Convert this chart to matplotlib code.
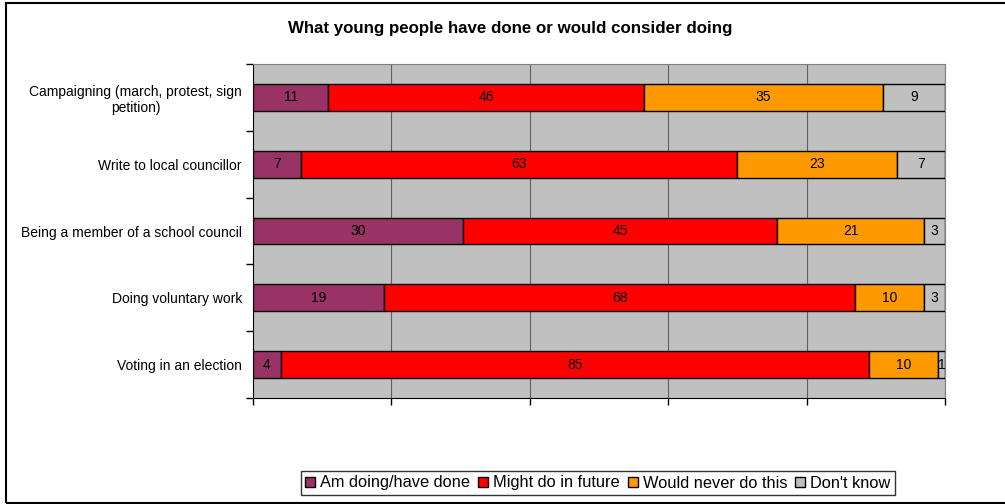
import matplotlib.pyplot as plt
import numpy as np
from matplotlib.patches import Rectangle

plt.rcParams['font.family'] = ['Liberation Sans', 'DejaVu Sans']

# Data (top to bottom)
activities = [
    'Campaigning (march, protest, sign\npetition)',
    'Write to local councillor',
    'Being a member of a school council',
    'Doing voluntary work',
    'Voting in an election',
]
series_names = ['Am doing/have done', 'Might do in future', 'Would never do this', "Don't know"]
am_doing = [11, 7, 30, 19, 4]
might_do = [46, 63, 45, 68, 85]
never_do = [35, 23, 21, 10, 10]
dont_know = [9, 7, 3, 3, 1]
colors = ['#993366', '#FF0000', '#FF9900', '#C0C0C0']

values = np.array([am_doing, might_do, never_do, dont_know], dtype=float)
totals = values.sum(axis=0)
pct = values / totals * 100

fig = plt.figure(figsize=(10.05, 5.04), dpi=100)
ax = fig.add_axes([253 / 1005, 1 - 398 / 504, (945 - 253) / 1005, (398 - 64) / 504])

# outer chart frame
fig.patches.append(Rectangle((6 / 1005, 1 / 504), 1.2, 1 - 4 / 504, transform=fig.transFigure,
                             fill=False, edgecolor='black', linewidth=1.5, zorder=0))

ax.set_facecolor('#C0C0C0')
y = np.arange(len(activities))
left = np.zeros(len(activities))
for i in range(len(series_names)):
    ax.barh(y, pct[i], left=left, height=0.4, color=colors[i], edgecolor='black',
            linewidth=1, label=series_names[i], zorder=3)
    for j in range(len(activities)):
        ax.text(left[j] + pct[i][j] / 2, y[j], f'{int(values[i][j])}', ha='center', va='center',
                fontsize=10, zorder=4)
    left += pct[i]

ax.set_xlim(0, 100)
ax.set_ylim(len(activities) - 0.5, -0.5)
ax.set_xticks([0, 20, 40, 60, 80, 100])
ax.set_xticklabels([])
ax.xaxis.grid(True, color='#606060', linewidth=0.8, zorder=1)
ax.set_axisbelow(True)

ax.set_yticks(y)
ax.set_yticklabels(activities, fontsize=10)
for lbl in ax.get_yticklabels():
    lbl.set_multialignment('center')
ax.set_yticks(np.arange(-0.5, len(activities)), minor=True)
ax.tick_params(axis='y', which='major', length=0, pad=8)
ax.tick_params(axis='y', which='minor', length=5, width=1, direction='out')
ax.tick_params(axis='x', length=5, width=1, direction='out')

ax.spines['left'].set_color('black')
ax.spines['bottom'].set_color('black')
ax.spines['top'].set_color('#808080')
ax.spines['right'].set_color('#808080')

fig.text(510 / 1005, 1 - 28 / 504, 'What young people have done or would consider doing',
         ha='center', va='center', fontsize=12.2, fontweight='bold')

leg = fig.legend(loc='center', bbox_to_anchor=(598 / 1005, 1 - 483 / 504), ncol=4, fontsize=11.8,
                 frameon=True, fancybox=False, edgecolor='black', handlelength=0.6,
                 handleheight=0.6, handletextpad=0.3, columnspacing=0.5, borderpad=0.3)
leg.get_frame().set_linewidth(1)

fig.savefig('out.png', dpi=100)
